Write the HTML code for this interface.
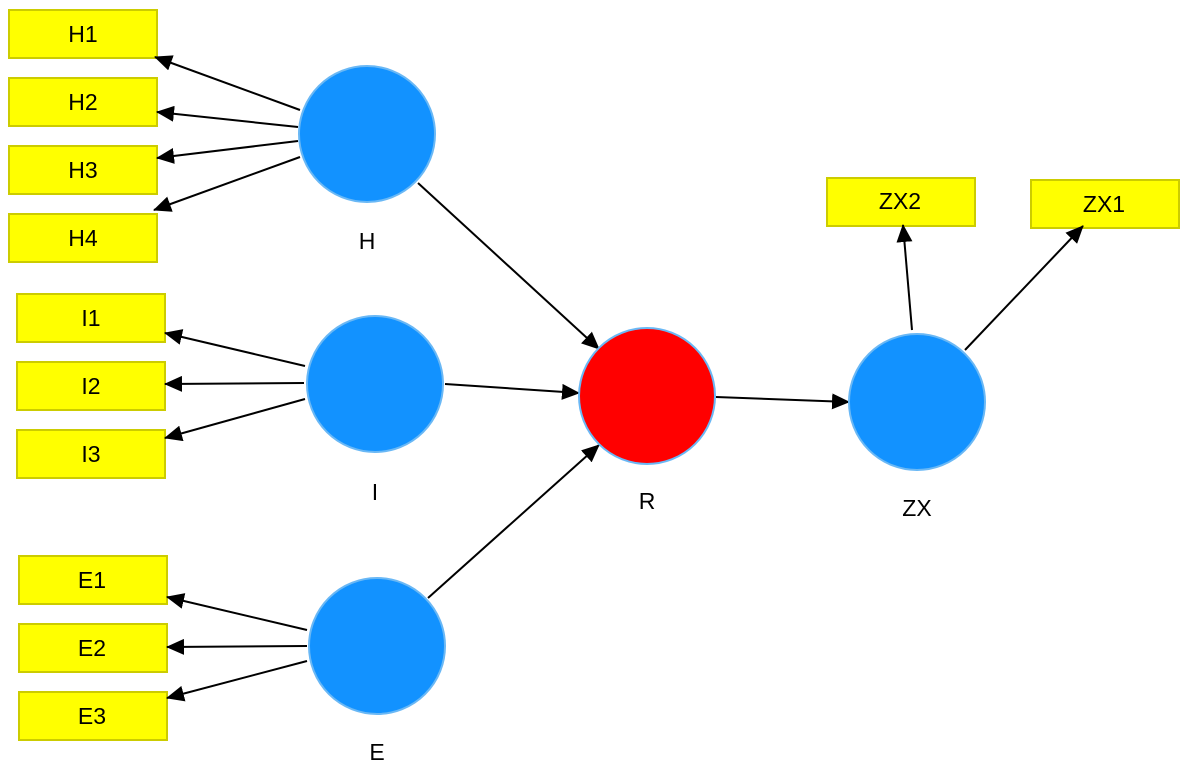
<!DOCTYPE html>
<html><head><meta charset="utf-8"><style>
html,body{margin:0;padding:0;background:#fff;width:1197px;height:769px;overflow:hidden}
</style></head><body>
<svg width="1197" height="769" viewBox="0 0 1197 769" xmlns="http://www.w3.org/2000/svg">
<defs>
<marker id="a" markerUnits="userSpaceOnUse" markerWidth="18" markerHeight="16" refX="17" refY="8" orient="auto">
<path d="M0,0 L18,8 L0,16 Z" fill="#000"/></marker>
</defs>
<g fill="#ffff00" stroke="#cccc00" stroke-width="2">
<rect x="9" y="10" width="148" height="48"/>
<rect x="9" y="78" width="148" height="48"/>
<rect x="9" y="146" width="148" height="48"/>
<rect x="9" y="214" width="148" height="48"/>
<rect x="17" y="294" width="148" height="48"/>
<rect x="17" y="362" width="148" height="48"/>
<rect x="17" y="430" width="148" height="48"/>
<rect x="19" y="556" width="148" height="48"/>
<rect x="19" y="624" width="148" height="48"/>
<rect x="19" y="692" width="148" height="48"/>
<rect x="827" y="178" width="148" height="48"/>
<rect x="1031" y="180" width="148" height="48"/>
</g>
<g text-anchor="middle" font-family="Liberation Sans, DejaVu Sans, sans-serif" font-size="23" fill="#000">
<text x="83" y="42">H1</text><text x="83" y="110">H2</text><text x="83" y="178">H3</text><text x="83" y="246">H4</text>
<text x="91" y="326">I1</text><text x="91" y="394">I2</text><text x="91" y="462">I3</text>
<text x="92" y="588">E1</text><text x="92" y="656">E2</text><text x="92" y="724">E3</text>
<text x="900" y="209">ZX2</text><text x="1104" y="212">ZX1</text>
<text x="367" y="249">H</text><text x="375" y="500">I</text><text x="377" y="760">E</text>
<text x="647" y="509">R</text><text x="917" y="516">ZX</text>
</g>
<g stroke="#000" stroke-width="2" marker-end="url(#a)">
<line x1="300" y1="110" x2="155" y2="57"/>
<line x1="298" y1="127" x2="157" y2="112"/>
<line x1="298" y1="141" x2="157" y2="158"/>
<line x1="300" y1="157" x2="154" y2="210"/>
<line x1="305" y1="366" x2="165" y2="333"/>
<line x1="304" y1="383" x2="165" y2="384"/>
<line x1="305" y1="399" x2="165" y2="438"/>
<line x1="307" y1="630" x2="167" y2="597"/>
<line x1="307" y1="646" x2="167" y2="647"/>
<line x1="307" y1="661" x2="167" y2="698"/>
<line x1="418" y1="183" x2="599" y2="349"/>
<line x1="445" y1="384" x2="579" y2="393"/>
<line x1="428" y1="598" x2="599" y2="445"/>
<line x1="716" y1="397" x2="849" y2="402"/>
<line x1="912" y1="330" x2="903" y2="225"/>
<line x1="965" y1="350" x2="1083" y2="226"/>
</g>
<g stroke="#6ab8f5" stroke-width="2">
<circle cx="367" cy="134" r="68" fill="#1292ff"/>
<circle cx="375" cy="384" r="68" fill="#1292ff"/>
<circle cx="377" cy="646" r="68" fill="#1292ff"/>
<circle cx="647" cy="396" r="68" fill="#ff0000"/>
<circle cx="917" cy="402" r="68" fill="#1292ff"/>
</g>
</svg>
</body></html>
